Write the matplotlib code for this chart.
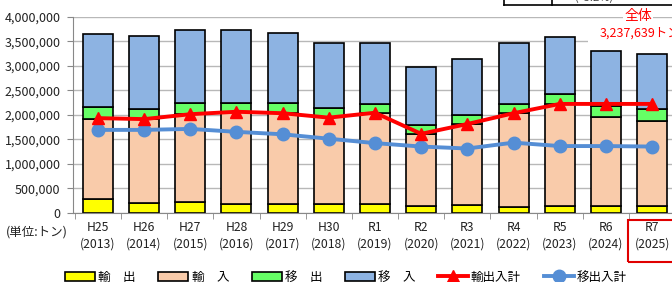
import numpy as np
import matplotlib
matplotlib.use("Agg")
import matplotlib.pyplot as plt
from matplotlib.patches import Rectangle
from matplotlib.lines import Line2D

plt.rcParams['font.family'] = ['Noto Sans CJK JP', 'DejaVu Sans']

#%% donnees (tonnes)
annees = ["H25\n(2013)", "H26\n(2014)", "H27\n(2015)", "H28\n(2016)", "H29\n(2017)",
          "H30\n(2018)", "R1\n(2019)", "R2\n(2020)", "R3\n(2021)", "R4\n(2022)",
          "R5\n(2023)", "R6\n(2024)", "R7\n(2025)"]

yushutsu = [270000, 190000, 220000, 180000, 170000, 170000, 170000, 137000, 157000, 120000, 140000, 140000, 137000]
yunyu = [1650000, 1715000, 1790000, 1875000, 1860000, 1790000, 1870000, 1463000, 1663000, 1910000, 2080000, 1810000, 1733000]
ishutsu = [230000, 215000, 220000, 190000, 200000, 180000, 170000, 190000, 180000, 190000, 200000, 230000, 240000]
inyu = [1490000, 1480000, 1490000, 1490000, 1430000, 1330000, 1250000, 1180000, 1140000, 1250000, 1165000, 1130000, 1127639]

yushutsunyu_kei = [1930000, 1910000, 2010000, 2060000, 2030000, 1940000, 2040000, 1610000, 1810000, 2030000, 2220000, 2220000, 2220000]
ishutsunyu_kei = [1690000, 1690000, 1710000, 1650000, 1600000, 1510000, 1420000, 1350000, 1310000, 1430000, 1360000, 1360000, 1350000]

#%% figure
W, H = 672, 282
fig = plt.figure(figsize=(W / 100, H / 100), dpi=100)
ax = fig.add_axes([73 / W, (H - 212.7) / H, (677 - 73) / W, (212.7 - 16.7) / H])

x = np.arange(len(annees))
larg = 0.65
bas = np.zeros(len(annees))
couleurs = ["#FFFF00", "#F9CBAA", "#66FF66", "#8DB3E2"]
for serie, c in zip([yushutsu, yunyu, ishutsu, inyu], couleurs):
    ax.bar(x, serie, larg, bottom=bas, color=c, edgecolor="black", linewidth=1.2, zorder=2)
    bas = bas + np.array(serie)

ax.plot(x, yushutsunyu_kei, color="#FF0000", lw=2.8, marker="^", ms=9, zorder=4)
ax.plot(x, ishutsunyu_kei, color="#558ED5", lw=2.8, marker="o", ms=9, zorder=3)

ax.set_xlim(-0.54, len(annees) - 0.46)
ax.set_ylim(0, 4000000)
ax.set_yticks(np.arange(0, 4000001, 500000))
ax.set_yticklabels([f"{v:,}" for v in range(0, 4000001, 500000)], fontsize=9, color="#222222")
ax.set_xticks(x)
ax.set_xticklabels(annees, fontsize=8.8, color="#222222", linespacing=1.35)
ax.set_xticks(np.arange(-0.5, len(annees), 1), minor=True)
ax.tick_params(axis="x", which="major", length=0, pad=6)
ax.tick_params(axis="x", which="minor", length=4, color="#888888", direction="out")
ax.tick_params(axis="y", length=4, color="#888888", pad=5)
ax.grid(axis="y", color="#B8B8B8", lw=1)
ax.set_axisbelow(True)
for s in ["top", "right"]:
    ax.spines[s].set_visible(False)
for s in ["left", "bottom"]:
    ax.spines[s].set_color("#888888")

# unite
fig.text(6 / W, 1 - 232 / H, "(単位:トン)", fontsize=9, color="#222222", va="center", ha="left")

# boite "全体"
fig.add_artist(Rectangle((588 / W, 1 - 47 / H), 100 / W, 24 / H, transform=fig.transFigure,
                         facecolor="white", edgecolor="none", zorder=5))
fig.text(638 / W, 1 - 16 / H, "全体", fontsize=10, color="#FF0000", ha="center", va="center",
         zorder=6, bbox=dict(facecolor="white", edgecolor="none", pad=0.5))
fig.text(600 / W, 1 - 33 / H, "3,237,639トン", fontsize=9, color="#FF0000", ha="left", va="center", zorder=6)

# tableau coupe en haut
fig.add_artist(Line2D([504 / W, 504 / W], [1, 1 - 4.5 / H], transform=fig.transFigure, color="black", lw=1.2))
fig.add_artist(Line2D([552 / W, 552 / W], [1, 1 - 4.5 / H], transform=fig.transFigure, color="black", lw=1.2))
fig.add_artist(Line2D([504 / W, 1], [1 - 4.5 / H, 1 - 4.5 / H], transform=fig.transFigure, color="black", lw=1.2))
fig.text(575 / W, 1 + 2 / H, "(  5.2%)", fontsize=8, color="#444444", ha="left", va="center")

# cadre rouge R7
fig.add_artist(Rectangle((628 / W, 1 - 262 / H), 60 / W, 42 / H, transform=fig.transFigure,
                         facecolor="none", edgecolor="#E00000", lw=1.5, zorder=6))

# legende
poignees = [Rectangle((0, 0), 1, 1, facecolor=c, edgecolor="black", lw=1.2) for c in couleurs]
poignees += [Line2D([], [], color="#FF0000", lw=2.8, marker="^", ms=9),
             Line2D([], [], color="#558ED5", lw=2.8, marker="o", ms=9)]
noms = ["輸　出", "輸　入", "移　出", "移　入", "輸出入計", "移出入計"]
fig.legend(poignees, noms, loc="center", bbox_to_anchor=(346 / W, 1 - 277 / H), ncol=6,
           frameon=False, fontsize=9, handlelength=2.4, handleheight=0.7, handletextpad=0.25,
           columnspacing=1.8)

fig.savefig("out.png", dpi=100)
